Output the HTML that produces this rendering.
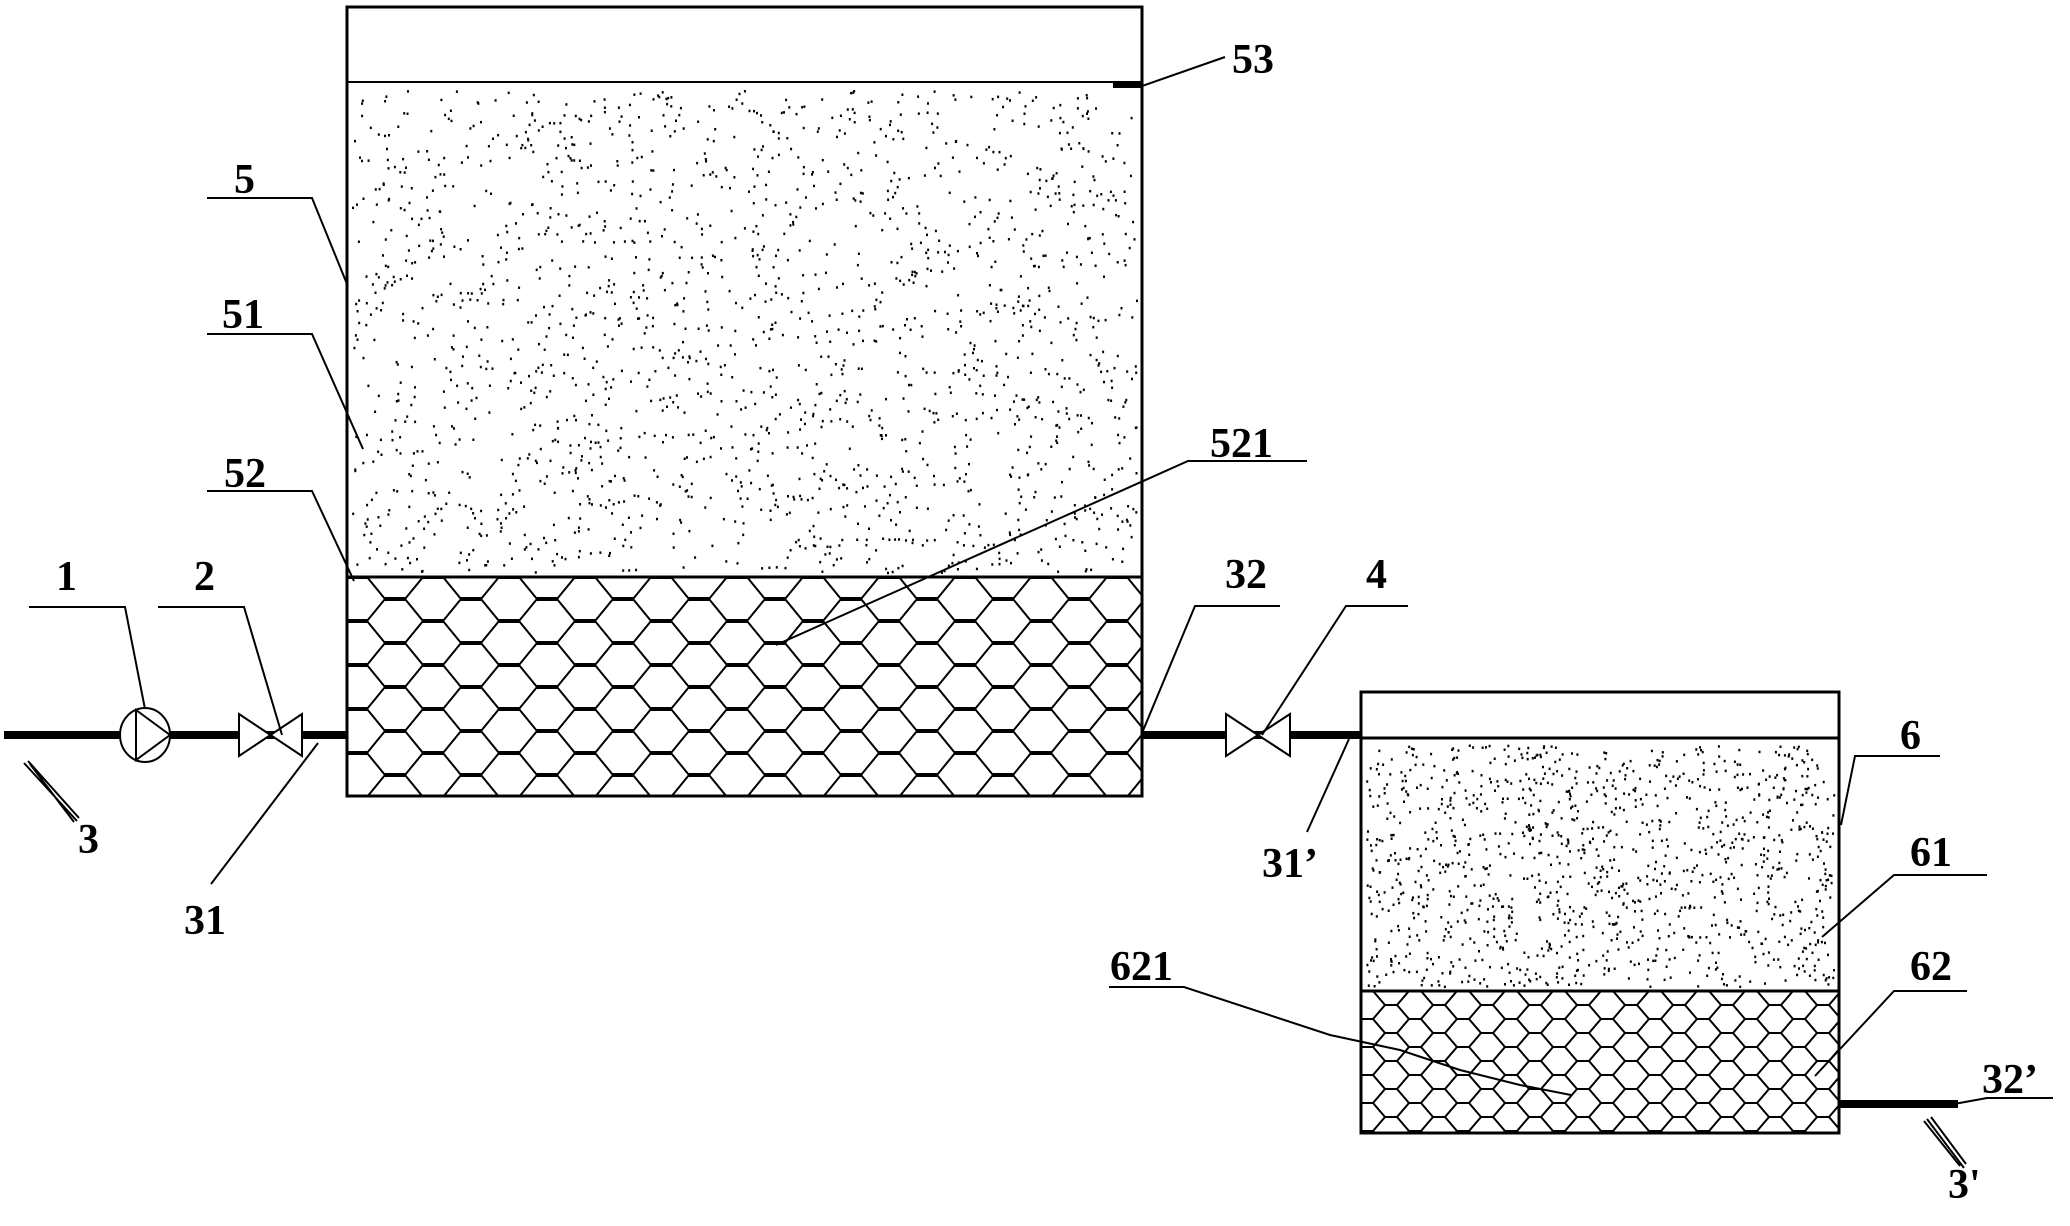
<!DOCTYPE html>
<html><head><meta charset="utf-8"><style>
html,body{margin:0;padding:0;background:#fff;}
svg{display:block;}
text{font-family:"Liberation Serif",serif;font-weight:bold;font-size:42px;fill:#000;}
</style></head><body>
<svg id="s" width="2070" height="1226" viewBox="0 0 2070 1226" xmlns="http://www.w3.org/2000/svg">
<defs>
<pattern id="hexA" x="347" y="577" width="76" height="44" patternUnits="userSpaceOnUse">
<path d="M0,0 h20 l18,22 l-18,22 h-20 M38,22 h20 l18,-22 M58,22 l18,22 M0,0 l-18,22 l18,22" fill="none" stroke="#000" stroke-width="2"/>
<path d="M38,22 h20" stroke="#000" stroke-width="4"/>
<path d="M0,0 h20 M0,44 h20" stroke="#000" stroke-width="4"/>
</pattern>
<pattern id="hexB" x="1361" y="991" width="48" height="28" patternUnits="userSpaceOnUse">
<path d="M0,0 h12 l12,14 l-12,14 h-12 M24,14 h12 l12,-14 M36,14 l12,14 M0,0 l-12,14 l12,14" fill="none" stroke="#000" stroke-width="2"/>
</pattern>
</defs>
<rect x="347" y="577" width="795" height="219" fill="url(#hexA)"/>
<rect x="347" y="7" width="795" height="789" fill="none" stroke="#000" stroke-width="3"/>
<line x1="347" y1="82" x2="1142" y2="82" stroke="#000" stroke-width="2"/>
<line x1="347" y1="577" x2="1142" y2="577" stroke="#000" stroke-width="3"/>
<rect x="1113" y="83" width="28" height="5" fill="#000"/>
<g id="dotsA"></g>
<rect x="1361" y="991" width="478" height="142" fill="url(#hexB)"/>
<rect x="1361" y="692" width="478" height="441" fill="none" stroke="#000" stroke-width="3"/>
<line x1="1361" y1="738" x2="1839" y2="738" stroke="#000" stroke-width="3"/>
<line x1="1361" y1="991" x2="1839" y2="991" stroke="#000" stroke-width="3"/>
<g id="dotsB"></g>
<g stroke="#000" stroke-width="8">
<line x1="4" y1="735" x2="347" y2="735"/>
<line x1="1142" y1="735" x2="1361" y2="735"/>
<line x1="1839" y1="1104" x2="1958" y2="1104"/>
</g>
<ellipse cx="145" cy="735" rx="25" ry="27" fill="#fff" stroke="#000" stroke-width="2"/>
<path d="M136,710 L170,735 L136,760 Z" fill="none" stroke="#000" stroke-width="2"/>
<path d="M239,714 L302,756 L302,714 L239,756 Z" fill="#fff" stroke="#000" stroke-width="2"/>
<path d="M1226,714 L1290,756 L1290,714 L1226,756 Z" fill="#fff" stroke="#000" stroke-width="2"/>
<g stroke="#000" stroke-width="2" fill="none">
<path d="M29,607 H125 L145,709"/>
<path d="M158,607 H244 L282,735"/>
<path d="M211,884 L318,743"/>
<path d="M207,198 H312 L347,284"/>
<path d="M207,334 H312 L363,449"/>
<path d="M207,491 H312 L354,581"/>
<path d="M1142,86 L1225,57"/>
<path d="M1307,461 H1188 L776,645"/>
<path d="M1280,606 H1195 L1142,733"/>
<path d="M1408,606 H1346 L1262,735"/>
<path d="M1307,832 L1349,739"/>
<path d="M1940,756 H1855 L1841,825"/>
<path d="M1987,875 H1894 L1822,937"/>
<path d="M1967,991 H1894 L1815,1076"/>
<path d="M1109,987 H1184 L1330,1035 L1400,1050 L1460,1070 L1520,1085 L1571,1095"/>
<path d="M2053,1098 H1987 L1954,1104"/>
<path d="M24,763 L77,821 M28,761 L79,818 M30,764 L74,822"/>
<path d="M1927,1119 L1964,1168 M1931,1117 L1966,1164 M1924,1121 L1960,1166"/>
</g>
<text x="56" y="590">1</text>
<text x="194" y="590">2</text>
<text x="78" y="853">3</text>
<text x="184" y="934">31</text>
<text x="234" y="193">5</text>
<text x="222" y="328">51</text>
<text x="224" y="487">52</text>
<text x="1232" y="73">53</text>
<text x="1210" y="457">521</text>
<text x="1225" y="588">32</text>
<text x="1366" y="588">4</text>
<text x="1262" y="877">31’</text>
<text x="1900" y="749">6</text>
<text x="1910" y="866">61</text>
<text x="1910" y="980">62</text>
<text x="1110" y="980">621</text>
<text x="1982" y="1093">32’</text>
<text x="1948" y="1198">3'</text>
</svg>
<script>
(function(){
var seed=12345;function r(){seed=(seed*16807)%2147483647;return seed/2147483647;}
function fill(id,x,y,w,h,n){var g=document.getElementById(id);var s="";
for(var i=0;i<n;i++){var px=x+r()*w,py=y+r()*h;s+='<rect x="'+px.toFixed(1)+'" y="'+py.toFixed(1)+'" width="2" height="2.5"/>';}
g.innerHTML=s;}
fill("dotsA",352,90,784,482,1900);
fill("dotsB",1366,744,468,242,1200);
})();
</script>
</body></html>
